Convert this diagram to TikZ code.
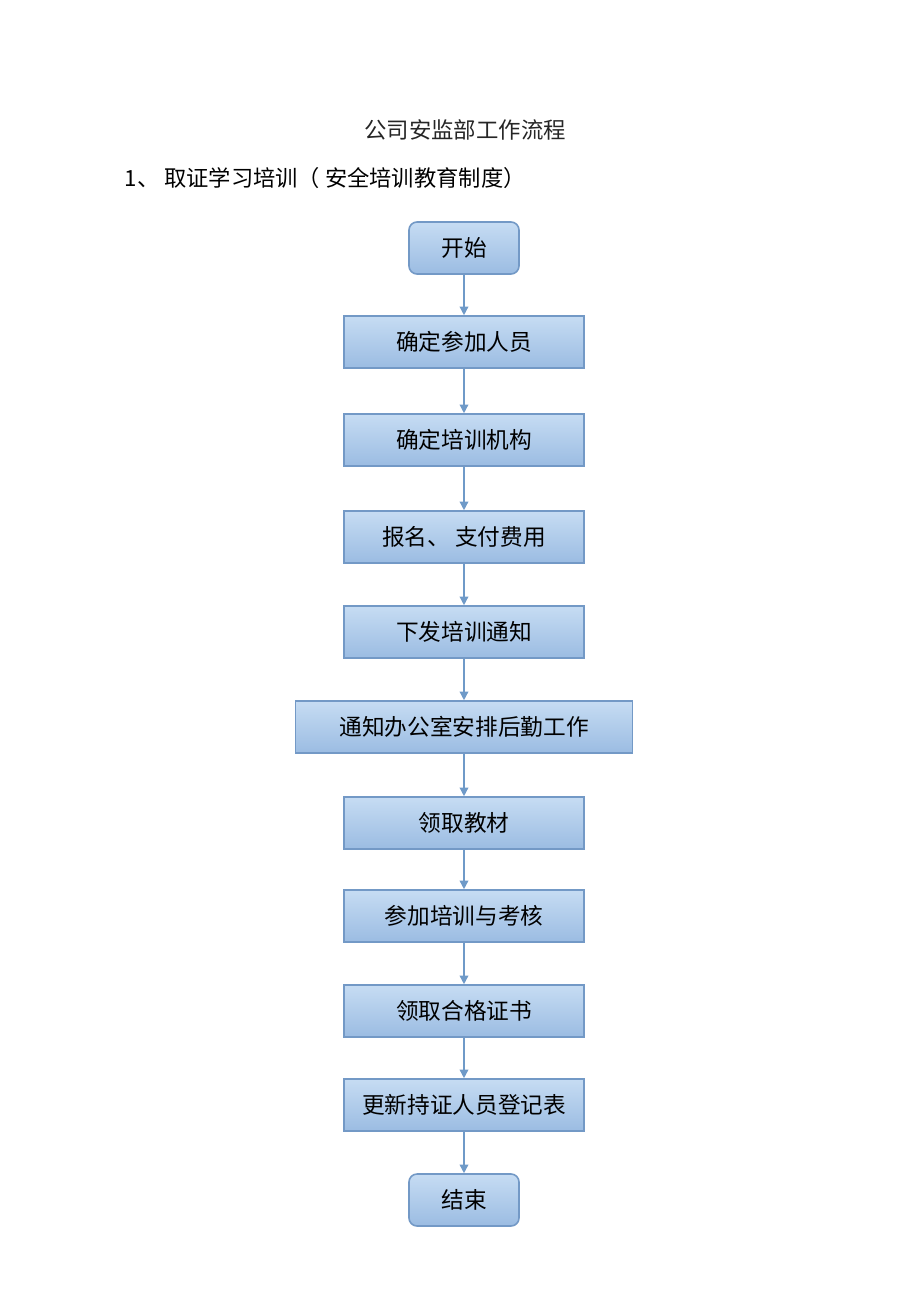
\documentclass[tikz,border=0pt]{standalone}
\usepackage{fontspec}
\setmainfont{Noto Sans CJK SC}
\newfontfamily\cjk{Noto Sans CJK SC}
\usetikzlibrary{arrows.meta,shadings}
\definecolor{boxtop}{HTML}{C6DCF3}
\definecolor{boxbot}{HTML}{9BBCE2}
\definecolor{boxline}{HTML}{7399C6}
\definecolor{arr}{HTML}{6F9AC8}
\begin{document}
\begin{tikzpicture}[x=0.75pt,y=-0.75pt,
  flowbox/.style={draw=boxline,line width=1.2pt,top color=boxtop,bottom color=boxbot,
    minimum height=52*0.75pt,inner sep=0pt,font=\cjk\fontsize{17}{19}\selectfont,text=black},
  wbox/.style={flowbox,minimum width=240*0.75pt},
  rbox/.style={flowbox,rounded corners=6pt,minimum width=110*0.75pt},
  flowarrow/.style={draw=arr,line width=1.1pt,-{Triangle[width=6.5pt,length=6.5pt]}}]
\useasboundingbox (0,0) rectangle (920,1302);
\node[font=\cjk\fontsize{16.8}{18}\selectfont,text=black!85] (title) at (465,130) {公司安监部工作流程};
\node[font=\cjk\fontsize{16.7}{18}\selectfont,anchor=west] (head) at (120,178) {1、 取证学习培训（ 安全培训教育制度）};
\node[rbox] (s) at (464,248) {开始};
\node[wbox] (b1) at (464,342) {确定参加人员};
\node[wbox] (b2) at (464,440) {确定培训机构};
\node[wbox] (b3) at (464,537) {报名、 支付费用};
\node[wbox] (b4) at (464,632) {下发培训通知};
\node[flowbox,minimum width=337*0.75pt] (b5) at (464,727) {通知办公室安排后勤工作};
\node[wbox] (b6) at (464,823) {领取教材};
\node[wbox] (b7) at (464,916) {参加培训与考核};
\node[wbox] (b8) at (464,1011) {领取合格证书};
\node[wbox] (b9) at (464,1105) {更新持证人员登记表};
\node[rbox] (e) at (464,1200) {结束};
\draw[flowarrow] (s) -- (b1);
\draw[flowarrow] (b1) -- (b2);
\draw[flowarrow] (b2) -- (b3);
\draw[flowarrow] (b3) -- (b4);
\draw[flowarrow] (b4) -- (b5);
\draw[flowarrow] (b5) -- (b6);
\draw[flowarrow] (b6) -- (b7);
\draw[flowarrow] (b7) -- (b8);
\draw[flowarrow] (b8) -- (b9);
\draw[flowarrow] (b9) -- (e);
\end{tikzpicture}
\end{document}
